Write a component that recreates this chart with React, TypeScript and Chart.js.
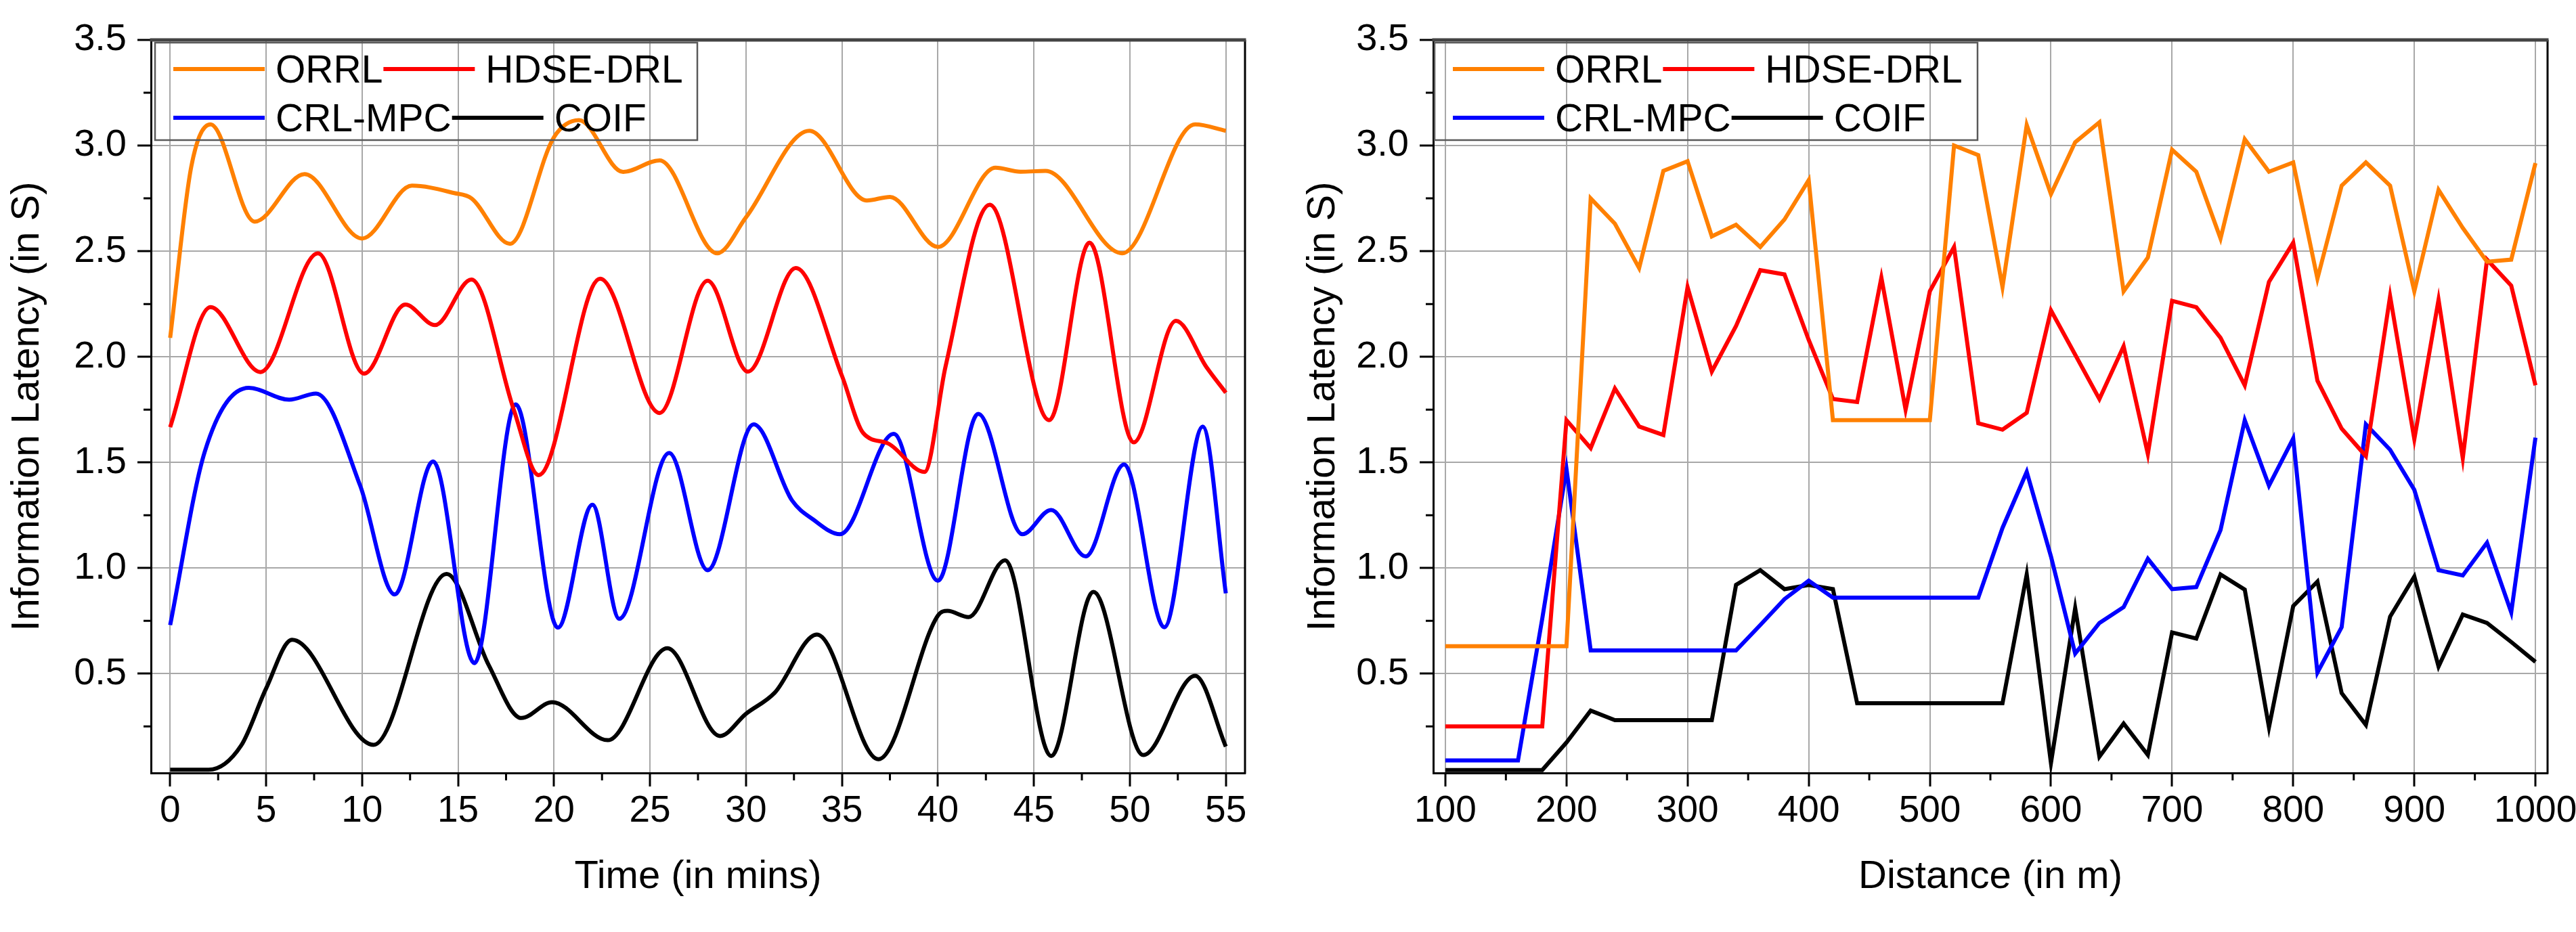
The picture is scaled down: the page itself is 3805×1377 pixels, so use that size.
import { useEffect, useRef } from 'react'
import { Chart, registerables } from 'chart.js'

Chart.register(...registerables)

// ---------- left panel: latency vs time (smooth curves) ----------
const orrlTime = [0, 1.1, 2.1, 4.4, 7.0, 10.0, 12.6, 14.8, 15.7, 17.7, 20.0, 21.3, 23.6, 25.5, 28.5, 30.0, 33.3, 36.3, 37.5, 40.0, 43.0, 44.3, 45.6, 49.6, 53.4, 55]
const orrlTimeLatency = [2.09, 2.9, 3.10, 2.64, 2.865, 2.56, 2.81, 2.775, 2.75, 2.535, 3.04, 3.12, 2.875, 2.93, 2.49, 2.66, 3.07, 2.74, 2.757, 2.52, 2.895, 2.876, 2.88, 2.49, 3.10, 3.07]

const hdseTime = [0, 2.1, 4.7, 7.7, 10.1, 12.25, 13.8, 15.7, 17.9, 19.2, 22.4, 25.5, 28.0, 30.1, 32.6, 35.0, 36.1, 37.4, 39.3, 40.4, 42.7, 45.8, 47.9, 50.2, 52.4, 54.0, 55]
const hdseTimeLatency = [1.667, 2.235, 1.928, 2.49, 1.92, 2.247, 2.15, 2.366, 1.75, 1.44, 2.37, 1.734, 2.36, 1.93, 2.42, 1.91, 1.64, 1.59, 1.455, 1.955, 2.72, 1.70, 2.54, 1.595, 2.17, 1.95, 1.83]

const crlTime = [0, 1.8, 4.1, 6.2, 7.6, 9.9, 11.7, 13.7, 15.85, 18.0, 20.2, 22.0, 23.4, 26.0, 28.0, 30.4, 32.4, 33.5, 34.9, 37.7, 40.0, 42.1, 44.4, 45.9, 47.7, 49.7, 51.8, 53.8, 55]
const crlTimeLatency = [0.73, 1.55, 1.853, 1.797, 1.826, 1.39, 0.875, 1.505, 0.55, 1.775, 0.718, 1.30, 0.76, 1.545, 0.99, 1.68, 1.32, 1.23, 1.16, 1.635, 0.94, 1.73, 1.16, 1.275, 1.055, 1.49, 0.72, 1.67, 0.88]

const coifTime = [0, 2.0, 3.7, 5.0, 6.35, 10.6, 14.4, 16.6, 18.3, 19.9, 22.8, 25.9, 28.65, 30.0, 31.5, 33.7, 36.9, 40.0, 40.5, 41.6, 43.5, 45.9, 48.1, 50.7, 53.4, 55]
const coifTimeLatency = [0.045, 0.045, 0.16, 0.43, 0.66, 0.163, 0.972, 0.54, 0.29, 0.365, 0.185, 0.62, 0.205, 0.31, 0.41, 0.685, 0.095, 0.775, 0.797, 0.768, 1.037, 0.11, 0.887, 0.115, 0.49, 0.155]

// ---------- right panel: latency vs distance (straight segments) ----------
const distance = [100, 120, 140, 160, 180, 200, 220, 240, 260, 280, 300, 320, 340, 360, 380, 400, 420, 440, 460, 480, 500, 520, 540, 560, 580, 600, 620, 640, 660, 680, 700, 720, 740, 760, 780, 800, 820, 840, 860, 880, 900, 920, 940, 960, 980, 1000]
const orrlDist = [0.63, 0.63, 0.63, 0.63, 0.63, 0.63, 2.75, 2.63, 2.42, 2.88, 2.926, 2.57, 2.625, 2.52, 2.65, 2.836, 1.70, 1.70, 1.70, 1.70, 1.70, 3.0, 2.955, 2.33, 3.097, 2.77, 3.016, 3.11, 2.31, 2.47, 2.98, 2.876, 2.56, 3.03, 2.876, 2.92, 2.37, 2.81, 2.92, 2.81, 2.31, 2.79, 2.61, 2.45, 2.46, 2.917]
const hdseDist = [0.25, 0.25, 0.25, 0.25, 0.25, 1.70, 1.568, 1.85, 1.67, 1.63, 2.33, 1.93, 2.146, 2.41, 2.39, 2.08, 1.80, 1.786, 2.375, 1.75, 2.31, 2.52, 1.685, 1.655, 1.735, 2.22, 2.01, 1.80, 2.05, 1.54, 2.265, 2.235, 2.09, 1.865, 2.355, 2.54, 1.887, 1.66, 1.53, 2.287, 1.61, 2.27, 1.52, 2.46, 2.337, 1.865]
const crlDist = [0.089, 0.089, 0.089, 0.089, 0.76, 1.47, 0.61, 0.61, 0.61, 0.61, 0.61, 0.61, 0.61, 0.73, 0.853, 0.94, 0.86, 0.86, 0.86, 0.86, 0.86, 0.86, 0.86, 1.19, 1.455, 1.055, 0.595, 0.74, 0.815, 1.044, 0.90, 0.91, 1.18, 1.70, 1.39, 1.613, 0.505, 0.72, 1.68, 1.56, 1.37, 0.99, 0.965, 1.12, 0.79, 1.617]
const coifDist = [0.044, 0.044, 0.044, 0.044, 0.044, 0.174, 0.325, 0.28, 0.28, 0.28, 0.28, 0.28, 0.92, 0.99, 0.90, 0.92, 0.90, 0.36, 0.36, 0.36, 0.36, 0.36, 0.36, 0.36, 0.97, 0.077, 0.81, 0.107, 0.264, 0.115, 0.695, 0.666, 0.97, 0.898, 0.246, 0.82, 0.936, 0.408, 0.257, 0.77, 0.96, 0.534, 0.78, 0.74, 0.65, 0.556]

const seriesNames = ['ORRL', 'HDSE-DRL', 'CRL-MPC', 'COIF']
const seriesColors = ['#FF8000', '#FF0000', '#0000FF', '#000000']

// axis ticks
const latencyTicks = [0.5, 1.0, 1.5, 2.0, 2.5, 3.0, 3.5]
const latencyMinor = [0.25, 0.75, 1.25, 1.75, 2.25, 2.75, 3.25]
const timeTicks = [0, 5, 10, 15, 20, 25, 30, 35, 40, 45, 50, 55]
const timeMinor = [2.5, 7.5, 12.5, 17.5, 22.5, 27.5, 32.5, 37.5, 42.5, 47.5, 52.5]
const distTicks = [100, 200, 300, 400, 500, 600, 700, 800, 900, 1000]
const distMinor = [150, 250, 350, 450, 550, 650, 750, 850, 950]

const FONT = '"Liberation Sans", Arial, sans-serif'

const pts = (xs, ys) => xs.map((x, i) => ({ x, y: ys[i] }))

// draws the Origin-like frame bits Chart.js has no option for:
// minor ticks, top/right border and the boxed two-row legend
function originFrame(cfg) {
  return {
    id: 'originFrame',
    afterDraw(chart) {
      const { ctx, chartArea: a, scales } = chart
      ctx.save()

      ctx.strokeStyle = '#000'
      ctx.lineWidth = 3
      ctx.beginPath()
      cfg.xMinor.forEach(v => {
        const px = scales.x.getPixelForValue(v)
        ctx.moveTo(px, a.bottom)
        ctx.lineTo(px, a.bottom + 11)
      })
      cfg.yMinor.forEach(v => {
        const py = scales.y.getPixelForValue(v)
        ctx.moveTo(a.left, py)
        ctx.lineTo(a.left - 11, py)
      })
      ctx.moveTo(a.right, a.top)
      ctx.lineTo(a.right, a.bottom + 1.5)
      ctx.stroke()

      ctx.strokeStyle = '#444'
      ctx.lineWidth = 5
      ctx.beginPath()
      ctx.moveTo(a.left - 1.5, a.top)
      ctx.lineTo(a.right + 1.5, a.top)
      ctx.stroke()

      // legend
      const bx = a.left + cfg.legendDx
      const by = a.top + 4
      ctx.strokeStyle = '#5a5a5a'
      ctx.lineWidth = 2.5
      ctx.strokeRect(bx, by, cfg.legendW, 144)

      ctx.font = '57px ' + FONT
      ctx.fillStyle = '#000'
      ctx.textBaseline = 'alphabetic'
      const rows = [[0, 1], [2, 3]]
      const rowY = [a.top + 43, a.top + 115]
      rows.forEach((row, r) => {
        let x = bx + 27
        const y = rowY[r]
        row.forEach(i => {
          const ds = chart.data.datasets[i]
          ctx.strokeStyle = ds.borderColor
          ctx.lineWidth = 6
          ctx.beginPath()
          ctx.moveTo(x, y)
          ctx.lineTo(x + 135, y)
          ctx.stroke()
          x += 151
          ctx.fillText(ds.label, x, y + 20)
          x += ctx.measureText(ds.label).width + 1
        })
      })

      ctx.restore()
    }
  }
}

function makeOptions(p) {
  return {
    responsive: false,
    devicePixelRatio: 1,
    animation: false,
    layout: { padding: { left: 0, top: 59, right: p.padRight, bottom: 0 } },
    plugins: { legend: { display: false }, tooltip: { enabled: false } },
    elements: { point: { radius: 0 } },
    scales: {
      x: {
        type: 'linear',
        min: p.xMin,
        max: p.xMax,
        afterBuildTicks: scale => { scale.ticks = p.xTicks.map(v => ({ value: v })) },
        afterFit: scale => { scale.height = 235; scale.paddingLeft = 0; scale.paddingRight = 0 },
        ticks: { autoSkip: false, maxRotation: 0, padding: 4, color: '#000', font: { family: FONT, size: 55 }, callback: v => String(v) },
        grid: { color: '#a8a8a8', lineWidth: 2, tickLength: 20, tickColor: '#000', tickWidth: 3 },
        border: { color: '#000', width: 3 },
        title: { display: true, text: p.xTitle, color: '#000', font: { family: FONT, size: 58 }, padding: { top: 0, bottom: 46 } }
      },
      y: {
        type: 'linear',
        min: 0.03,
        max: 3.5,
        afterBuildTicks: scale => { scale.ticks = latencyTicks.map(v => ({ value: v })) },
        afterFit: scale => { scale.width = p.yWidth },
        ticks: { padding: 16, color: '#000', font: { family: FONT, size: 56 }, callback: v => Number(v).toFixed(1) },
        grid: { color: '#a8a8a8', lineWidth: 2, tickLength: 20, tickColor: '#000', tickWidth: 3 },
        border: { color: '#000', width: 3 },
        title: { display: true, text: 'Information Latency (in S)', color: '#000', font: { family: FONT, size: 58 }, padding: { top: p.yTitlePad, bottom: 0 } }
      }
    }
  }
}

function LatencyChart({ width, datasets, opts, frame }) {
  const canvasRef = useRef(null)
  const chartRef = useRef(null)

  useEffect(() => {
    if (!canvasRef.current) return
    chartRef.current = new Chart(canvasRef.current, {
      type: 'line',
      data: { datasets },
      options: makeOptions(opts),
      plugins: [originFrame(frame)]
    })
    return () => {
      if (chartRef.current) chartRef.current.destroy()
    }
  }, [])

  return <canvas ref={canvasRef} width={width} height={1377} style={{ display: 'block', width, height: 1377 }} />
}

export default function App() {
  const timeSeries = [
    [orrlTime, orrlTimeLatency],
    [hdseTime, hdseTimeLatency],
    [crlTime, crlTimeLatency],
    [coifTime, coifTimeLatency]
  ]
  const distSeries = [orrlDist, hdseDist, crlDist, coifDist]

  const timeDatasets = timeSeries.map(([xs, ys], i) => ({
    label: seriesNames[i],
    data: pts(xs, ys),
    borderColor: seriesColors[i],
    borderWidth: 6,
    fill: false,
    cubicInterpolationMode: 'monotone'
  }))
  const distDatasets = distSeries.map((ys, i) => ({
    label: seriesNames[i],
    data: pts(distance, ys),
    borderColor: seriesColors[i],
    borderWidth: 6,
    fill: false,
    tension: 0
  }))

  return (
    <div style={{ position: 'absolute', left: 0, top: 0, width: 3805, height: 1377, background: '#fff', display: 'flex', overflow: 'hidden' }}>
      <LatencyChart
        width={1900}
        datasets={timeDatasets}
        opts={{ xMin: -1, xMax: 56, xTicks: timeTicks, xTitle: 'Time (in mins)', padRight: 61, yWidth: 223, yTitlePad: 6 }}
        frame={{ xMinor: timeMinor, yMinor: latencyMinor, legendDx: 6, legendW: 801 }}
      />
      <LatencyChart
        width={1905}
        datasets={distDatasets}
        opts={{ xMin: 90, xMax: 1010, xTicks: distTicks, xTitle: 'Distance (in m)', padRight: 42, yWidth: 217, yTitlePad: 20 }}
        frame={{ xMinor: distMinor, yMinor: latencyMinor, legendDx: 2, legendW: 802 }}
      />
    </div>
  )
}
